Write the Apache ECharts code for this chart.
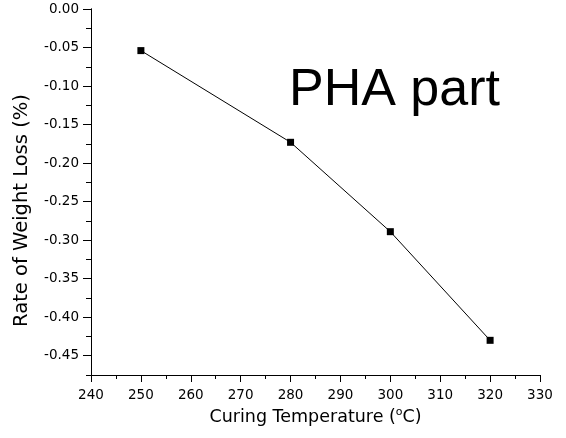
<!DOCTYPE html>
<html>
<head>
<meta charset="utf-8">
<script src="https://cdn.jsdelivr.net/npm/echarts@6/dist/echarts.min.js"></script>
<style>html,body{margin:0;padding:0;background:#fff;}#c{width:566px;height:438px;}</style>
</head>
<body>
<div id="c"></div>
<script>
const temperatures = [250, 280, 300, 320];
const weightLoss = [-0.054, -0.173, -0.289, -0.430];
const xTitle = 'Curing Temperature (';
const yTitle = 'Rate of Weight Loss (%)';
const annotation = 'PHA part';

const F = 'DejaVu Sans';
const chart = echarts.init(document.getElementById('c'), null, {renderer: 'canvas'});
chart.setOption({
  animation: false,
  backgroundColor: '#fff',
  grid: [
    {left: 91, right: 26, top: 9, bottom: 63},
    {left: 91, right: 26, top: 9, bottom: 82.3}
  ],
  xAxis: [
    {
      gridIndex: 0, type: 'value', min: 240, max: 330, interval: 10,
      axisLine: {onZero: false, lineStyle: {color: '#000', width: 1}},
      axisTick: {show: true, length: 7, lineStyle: {color: '#000'}},
      minorTick: {show: true, splitNumber: 2, length: 4, lineStyle: {color: '#000'}},
      splitLine: {show: false},
      axisLabel: {color: '#000', fontFamily: F, fontSize: 13.5, margin: 13},
      name: '{a|' + xTitle + '}{s|o}{a|C)}',
      nameLocation: 'middle', nameGap: 31,
      nameTextStyle: {
        rich: {
          a: {fontFamily: F, fontSize: 17.5, color: '#000'},
          s: {fontFamily: F, fontSize: 11, color: '#000', verticalAlign: 'top', padding: [0, 0, 10, 0]}
        }
      }
    },
    {gridIndex: 1, type: 'value', min: 240, max: 330, show: false}
  ],
  yAxis: [
    {
      gridIndex: 0, type: 'value', min: -0.475, max: 0, interval: 0.025,
      axisLine: {show: true, onZero: false, lineStyle: {color: '#000', width: 1}},
      axisTick: {show: true, length: 5, lineStyle: {color: '#000'}},
      axisLabel: {show: false},
      splitLine: {show: false}
    },
    {
      gridIndex: 1, type: 'value', min: -0.45, max: 0, interval: 0.05,
      axisLine: {show: true, onZero: false, lineStyle: {color: '#000', width: 1}},
      axisTick: {show: true, length: 8, lineStyle: {color: '#000'}},
      axisLabel: {color: '#000', fontFamily: F, fontSize: 13.5, margin: 12,
        formatter: function (v) { return v.toFixed(2); }},
      splitLine: {show: false}
    }
  ],
  graphic: [
    {
      type: 'text', x: 22, y: 210.5, rotation: Math.PI / 2,
      style: {text: yTitle, fontFamily: F, fontSize: 19.5, fill: '#000', align: 'center', verticalAlign: 'middle'}
    },
    {
      type: 'text', x: 289, y: 91,
      style: {text: annotation, fontFamily: 'Liberation Sans', fontSize: 52, fill: '#000', align: 'left', verticalAlign: 'middle'}
    }
  ],
  series: [{
    type: 'line', xAxisIndex: 0, yAxisIndex: 0,
    data: temperatures.map((t, i) => [t, weightLoss[i]]),
    symbol: 'rect', symbolSize: 7,
    itemStyle: {color: '#000'},
    lineStyle: {color: '#000', width: 1}
  }]
});
</script>
</body>
</html>
